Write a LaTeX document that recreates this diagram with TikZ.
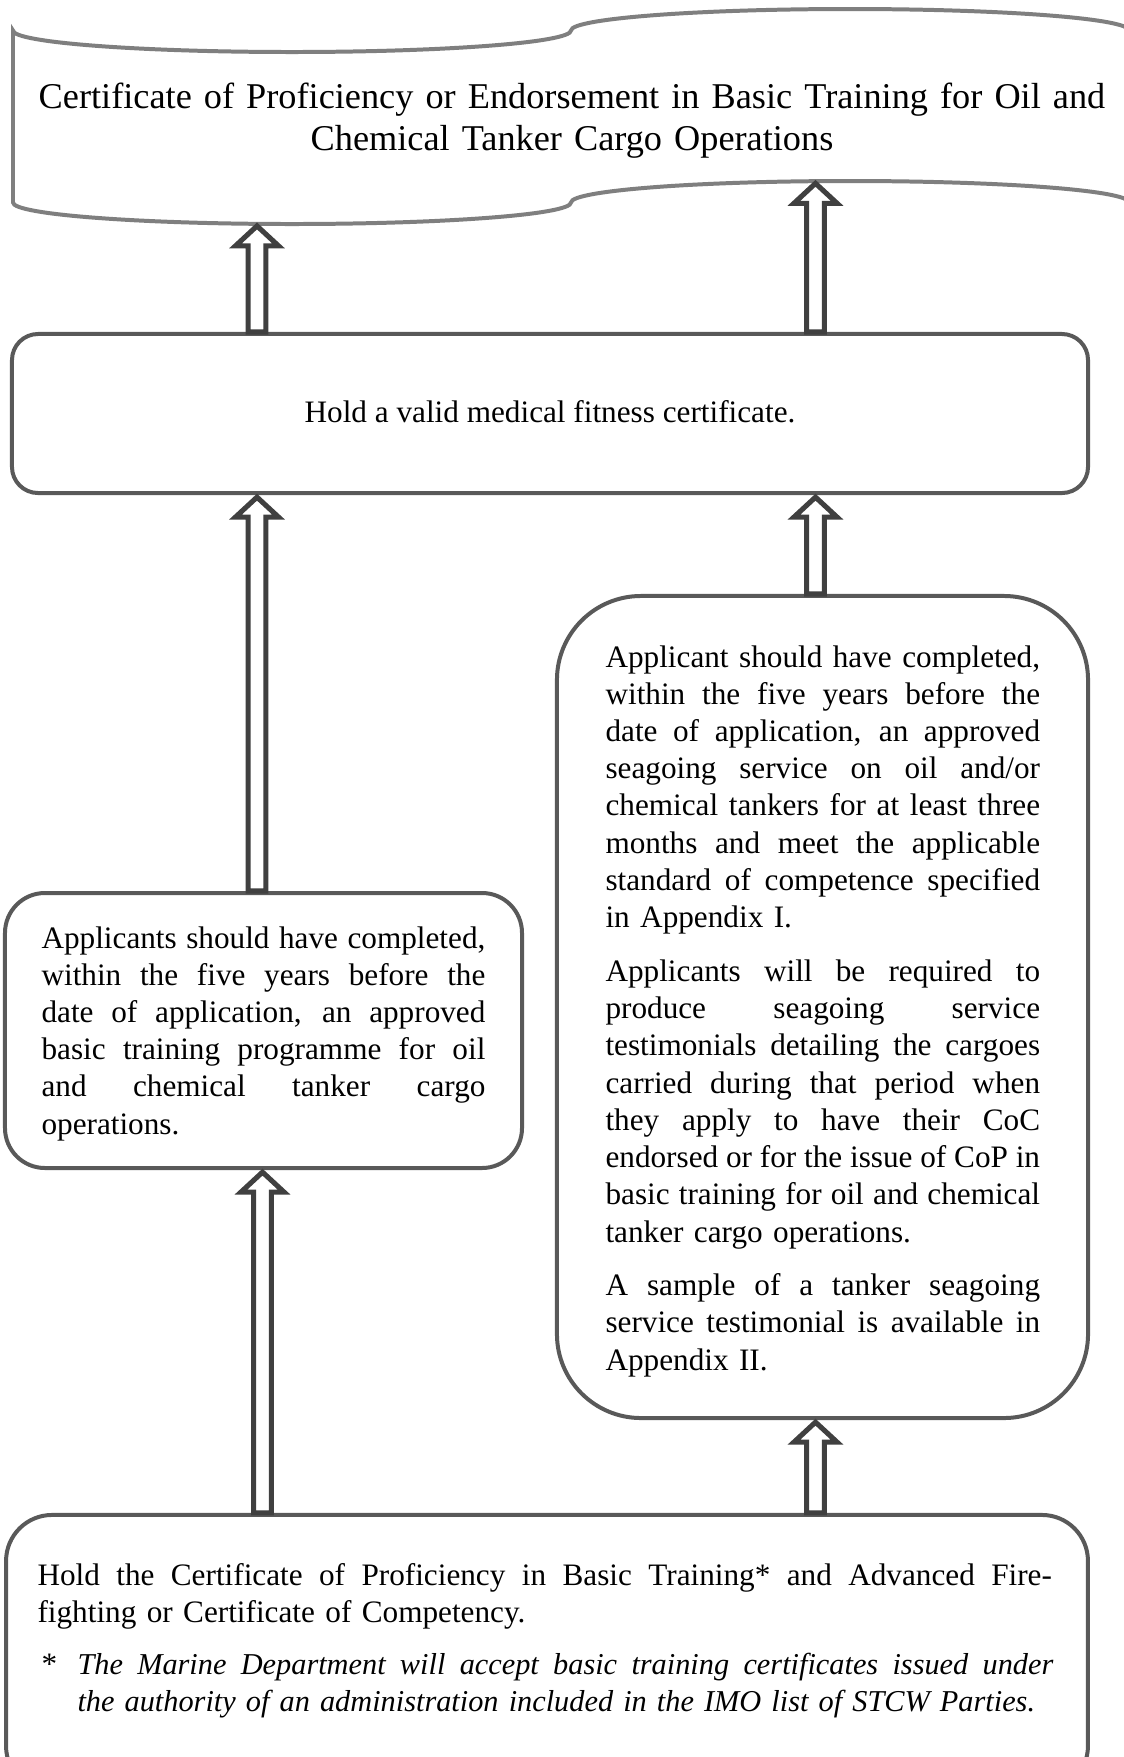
\documentclass[tikz,border=0pt]{standalone}
\usepackage{fontspec}
\setmainfont{Liberation Serif}
\usetikzlibrary{calc}

\definecolor{boxgray}{HTML}{595959}
\definecolor{arrowgray}{HTML}{404040}
\definecolor{bannergray}{HTML}{7F7F7F}

% width of the justified lines of the current text block
\newlength\jw
% one justified line: word spaces grow evenly to fill \jw
\newcommand\jl[1]{\noindent\hbox to \jw{\spaceskip=\fontdimen2\font plus 1fil\relax #1}\par}
% last line of a paragraph, set flush left
\newcommand\lastln[1]{\noindent\hbox{#1}\par}

% hollow block arrow pointing up, from the base point #1 to the tip height of #2
\newcommand\blockup[2]{%
  \draw[blockarrow] let \p1=(#1), \p2=(#2) in
    (\x1-3.35pt,\y1) -- (\x1-3.35pt,\y2-8.3pt) -- (\x1-8.1pt,\y2-8.3pt)
    -- (\x1,\y2-0.8pt) -- (\x1+8.1pt,\y2-8.3pt) -- (\x1+3.35pt,\y2-8.3pt)
    -- (\x1+3.35pt,\y1) -- cycle;}

\tikzset{
  roundbox/.style={draw=boxgray, line width=1.5pt, fill=white, inner sep=0pt},
  blockarrow/.style={draw=arrowgray, line width=1.9pt, fill=white, line join=miter},
  banner/.style={draw=bannergray, line width=1.5pt, fill=white},
  bodytext/.style={inner sep=0pt, anchor=base west, font=\fontsize{11.74}{14}\selectfont},
  notetext/.style={inner sep=0pt, anchor=base west, font=\fontsize{11.4}{14}\selectfont\itshape},
  titletext/.style={inner sep=0pt, anchor=base, align=center, text width=413.6pt,
    font=\fontsize{13.64}{16}\selectfont},
}

\begin{document}
\begin{tikzpicture}[x=0.376pt,y=-0.376pt]
\useasboundingbox[fill=white] (0,0) rectangle (1124,1757);

% punched-tape banner at the top
\draw[banner] (13,30.5) .. controls (13,42.4) and (137.9,52) .. (292,52)
  .. controls (446.1,52) and (571,42.4) .. (571,30.5)
  .. controls (571,18.6) and (695.9,9) .. (850,9)
  .. controls (1004.1,9) and (1129,18.6) .. (1129,30.5)
  -- (1129,202.5)
  .. controls (1129,190.6) and (1004.1,181) .. (850,181)
  .. controls (695.9,181) and (571,190.6) .. (571,202.5)
  .. controls (571,214.4) and (446.1,224) .. (292,224)
  .. controls (137.9,224) and (13,214.4) .. (13,202.5) -- cycle;
\coordinate (bannerL) at (257,223.8);
\coordinate (bannerR) at (815,181.2);
\node[titletext] (title) at (572,108)
  {Certificate of Proficiency or Endorsement in Basic Training for Oil and\\
   Chemical Tanker Cargo Operations};

% boxes
\node[roundbox, rounded corners=9.8pt, minimum width=404.6pt, minimum height=59.8pt]
  (med) at (550,413.5) {};
\node[roundbox, rounded corners=15pt, minimum width=194.4pt, minimum height=103.4pt]
  (leftbox) at (263.5,1030.5) {};
\node[roundbox, rounded corners=31.6pt, minimum width=199.7pt, minimum height=309.1pt]
  (rightbox) at (822.5,1007) {};
\node[roundbox, rounded corners=17.3pt, minimum width=406.8pt, minimum height=104.2pt]
  (btmbox) at (547,1653.5) {};

% arrow columns
\coordinate (colA) at (257,0);
\coordinate (colB) at (262.5,0);
\coordinate (colC) at (815.5,0);

\blockup{colA |- med.north}{bannerL}
\blockup{colC |- med.north}{bannerR}
\blockup{colA |- leftbox.north}{med.south}
\blockup{colC |- rightbox.north}{med.south}
\blockup{colB |- btmbox.north}{leftbox.south}
\blockup{colC |- btmbox.north}{rightbox.south}

% texts
\node[bodytext, anchor=base] (medtext) at (550,422)
  {Hold a valid medical fitness certificate.};

\node[bodytext, text width=168.1pt] (lefttext) at (41,948) {%
\setlength\jw{166.9pt}%
\jl{Applicants should have completed,}
\jl{within the five years before the}
\jl{date of application, an approved}
\jl{basic training programme for oil}
\jl{and chemical tanker cargo}
\lastln{operations.}};

\node[bodytext, text width=163.9pt] (righttext) at (605,667) {%
\setlength\jw{163.4pt}%
\jl{Applicant should have completed,}
\jl{within the five years before the}
\jl{date of application, an approved}
\jl{seagoing service on oil and/or}
\jl{chemical tankers for at least three}
\jl{months and meet the applicable}
\jl{standard of competence specified}
\lastln{in Appendix I.}\vspace{6.2pt}
\jl{Applicants will be required to}
\jl{produce seagoing service}
\jl{testimonials detailing the cargoes}
\jl{carried during that period when}
\jl{they apply to have their CoC}
\jl{endorsed or for the issue of CoP in}
\jl{basic training for oil and chemical}
\lastln{tanker cargo operations.}\vspace{6.2pt}
\jl{A sample of a tanker seagoing}
\jl{service testimonial is available in}
\lastln{Appendix II.}};

\node[bodytext, text width=382.8pt] (btmtext) at (37,1585) {%
\setlength\jw{381.4pt}%
\jl{Hold the Certificate of Proficiency in Basic Training* and Advanced Fire-}
\lastln{fighting or Certificate of Competency.}};

\node[bodytext] (star) at (41,1674.5) {*};
\node[notetext, text width=367pt] (note) at (77,1674.5) {%
\setlength\jw{366.9pt}%
\jl{The Marine Department will accept basic training certificates issued under}
\lastln{the authority of an administration included in the IMO list of STCW Parties.}};

\end{tikzpicture}
\end{document}
